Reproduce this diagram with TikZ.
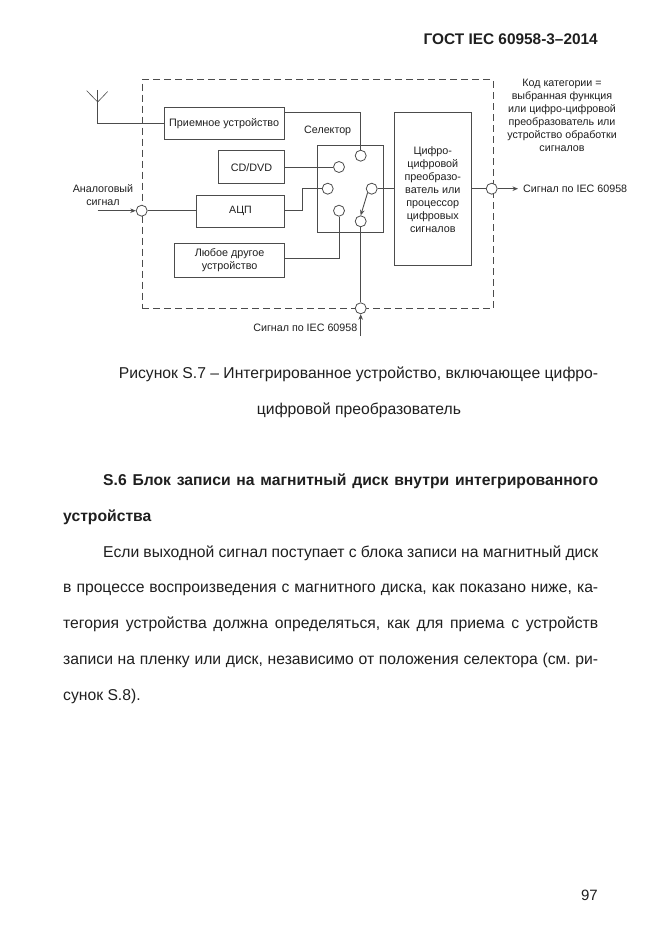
\documentclass[tikz,border=0pt]{standalone}
\usepackage{fontspec}
\setmainfont{Liberation Sans}
\usetikzlibrary{arrows.meta}
\definecolor{ln}{gray}{0.3}
\definecolor{txt}{gray}{0.12}
\frenchspacing
\tikzset{
  x=1pt,y=-1pt,
  blk/.style={draw=ln,line width=0.9pt,fill=none,inner sep=0pt,anchor=north west,align=center,font=\fontsize{10.8}{13.2}\selectfont,text=txt},
  port/.style={circle,draw=ln,line width=0.8pt,fill=white,minimum size=11pt,inner sep=0pt},
  wire/.style={draw=ln,line width=0.9pt},
  arr/.style={wire,-{Stealth[length=5.5pt,width=4.5pt]}},
  lab/.style={inner sep=0pt,text=txt,font=\fontsize{10.7}{13}\selectfont,align=center},
  small/.style={inner sep=0pt,text=txt,font=\fontsize{10.7}{13}\selectfont,align=center},
  body/.style={inner sep=0pt,anchor=base west,text=txt,font=\fontsize{15.7}{18}\selectfont},
  captxt/.style={inner sep=0pt,anchor=base,text=txt,font=\fontsize{15.7}{18}\selectfont},
  boldtxt/.style={inner sep=0pt,anchor=base west,text=txt,font=\fontsize{15.7}{18}\selectfont\bfseries},
}
\newcommand{\jl}[2]{\makebox[#1pt][s]{#2}}
\begin{document}
\begin{tikzpicture}
\useasboundingbox (0,0) rectangle (661,936);
\fill[white] (0,0) rectangle (661,936);
% outer dashed frame
\node[draw=ln,dash pattern=on 7pt off 4pt,line width=0.8pt,minimum width=351pt,minimum height=229pt,anchor=north west,inner sep=0pt] (frame) at (141.7,79.3) {};
% blocks
\node[blk,minimum width=120pt,minimum height=32pt] (rx) at (163.7,107.3) {Приемное устройство};
\node[blk,minimum width=65.4pt,minimum height=33pt] (cd) at (218.3,150.3) {CD/DVD};
\node[blk,minimum width=88pt,minimum height=32pt,font=\fontsize{10.6}{13}\selectfont] (adc) at (196,194.7) {АЦП};
\node[blk,minimum width=109.7pt,minimum height=33.4pt] (any) at (174.3,243.3) {Любое другое\\устройство};
\node[blk,minimum width=66.6pt,minimum height=87pt] (sel) at (316.7,145.3) {};
\node[blk,minimum width=77.3pt,minimum height=153pt,font=\fontsize{10.8}{13}\selectfont] (dsp) at (393.7,112.3) {Цифро-\\цифровой\\преобразо-\\ватель или\\процессор\\цифровых\\сигналов};
\node[lab] (sellab) at (327.7,131) {Селектор};
% ports
\node[port] (p1) at (360.7,155.7) {};
\node[port] (p2) at (339,167) {};
\node[port] (p3) at (327.7,188.7) {};
\node[port] (p4) at (339,210.7) {};
\node[port] (p5) at (371.7,188.7) {};
\node[port] (p6) at (360.7,221.3) {};
\node[port] (p7) at (360.7,308.3) {};
\node[port] (pin) at (141.7,210.7) {};
\node[port] (pout) at (491.7,188.7) {};
% antenna
\coordinate (aj) at (97.7,102);
\coordinate (al) at (86.7,90.7);
\coordinate (am) at (97.7,90);
\coordinate (ar) at (107.7,91.5);
\coordinate (ab) at (97.7,123.3);
\draw[wire,line width=0.6pt] (al) -- (aj) -- (ar);
\draw[wire,line width=0.6pt] (am) -- (aj);
\draw[wire] (aj) -- (ab) -- (rx.west |- ab);
% wires
\draw[wire] (rx.east |- 0,112) -- (p1 |- 0,112) -- (p1.north);
\draw[wire] (cd.east |- p2) -- (p2.west);
\draw[wire] (adc.east |- pin) -- (302.3,210.7) -- (302.3,188.7) -- (p3.west);
\draw[wire] (any.east |- 0,258.3) -- (p4 |- 0,258.3) -- (p4.south);
\draw[wire] (p5.east) -- (dsp.west |- p5);
\draw[arr] (p5.south west) -- (p6.north);
\draw[wire] (p6.south) -- (p7.north);
\coordinate (ain) at (97.7,210.7);
\draw[arr] (ain) -- (pin.west);
\draw[wire] (pin.east) -- (adc.west |- pin);
\draw[wire] (dsp.east |- pout) -- (pout.west);
\coordinate (aout) at (518,188.7);
\draw[arr] (pout.east) -- (aout);
\coordinate (bin) at (360.7,336);
\draw[arr] (bin) -- (p7.south);
% labels
\node[small] (l1) at (103,195) {Аналоговый\\сигнал};
\node[small,anchor=west] (l2) at (523,188.7) {Сигнал по IEC 60958};
\node[small,anchor=east] (l3) at (357.5,328) {Сигнал по IEC 60958};
\node[small] (l4) at (562,115) {Код категории =\\выбранная функция\\или цифро-цифровой\\преобразователь или\\устройство обработки\\сигналов};
% page text
\node[inner sep=0pt,anchor=base east,text=txt,font=\fontsize{15.4}{18}\selectfont\bfseries] (hdr) at (598,45) {ГОСТ IEC 60958-3–2014};
\node[captxt] (c1) at (358.5,378) {Рисунок S.7 – Интегрированное устройство, включающее цифро-};
\node[captxt] (c2) at (359,414) {цифровой преобразователь};
\node[boldtxt] (h1) at (103,485.5) {\jl{495}{S.6 Блок записи на магнитный диск внутри интегрированного}};
\node[boldtxt] (h2) at (63,521) {устройства};
\node[body] (b1) at (103,557) {\jl{495}{Если выходной сигнал поступает с блока записи на магнитный диск}};
\node[body] (b2) at (63,592.7) {\jl{535}{в процессе воспроизведения с магнитного диска, как показано ниже, ка-}};
\node[body] (b3) at (63,628.5) {\jl{535}{тегория устройства должна определяться, как для приема с устройств}};
\node[body] (b4) at (63,664) {\jl{535}{записи на пленку или диск, независимо от положения селектора (см. ри-}};
\node[body] (b5) at (63,700) {сунок S.8).};
\node[inner sep=0pt,anchor=base east,text=txt,font=\fontsize{15}{18}\selectfont] (pg) at (598,900) {97};
\end{tikzpicture}
\end{document}
